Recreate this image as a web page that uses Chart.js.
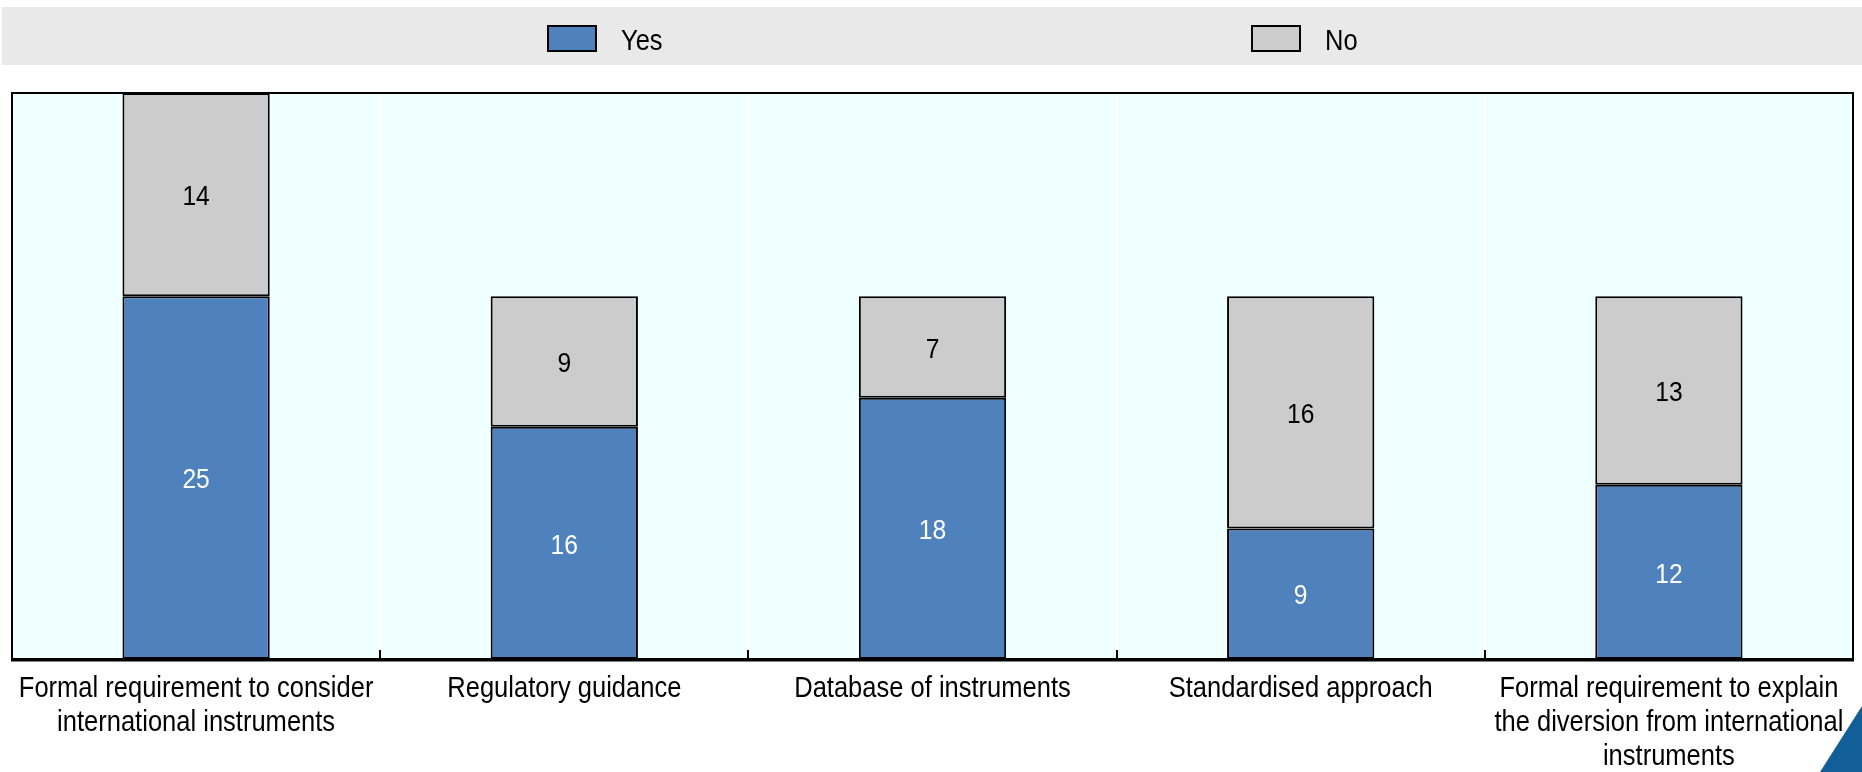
<!DOCTYPE html>
<html>
<head>
<meta charset="utf-8">
<script src="https://cdn.jsdelivr.net/npm/chart.js@4.4.1/dist/chart.umd.min.js"></script>
<style>
  html, body { margin: 0; padding: 0; background: #ffffff; }
  #wrap { width: 1862px; height: 772px; position: relative; }
</style>
</head>
<body>
<div id="wrap"><canvas id="chart" width="1862" height="772"></canvas></div>
<script>
// Categories of regulatory practice
const categories = [
  ["Formal requirement to consider", "international instruments"],
  "Regulatory guidance",
  "Database of instruments",
  "Standardised approach",
  ["Formal requirement to explain", "the diversion from international", "instruments"]
];
const seriesNames = ["Yes", "No"];
const yesValues = [25, 16, 18, 9, 12];
const noValues = [14, 9, 7, 16, 13];

const FONT = "'Liberation Sans', Arial, sans-serif";
const SQUEEZE = 0.88;           // horizontal condensing of all text
const BLUE = "#4F81BD";
const GREY = "#CCCCCC";

// Condensed text helper
function condensedText(ctx, text, x, y, align) {
  ctx.save();
  ctx.translate(x, y);
  ctx.scale(SQUEEZE, 1);
  ctx.textAlign = align;
  ctx.fillText(text, 0, 0);
  ctx.restore();
}

// Light plot background, the top legend band and the corner mark
const backdrop = {
  id: "backdrop",
  beforeDraw(chart) {
    const { ctx, chartArea: a } = chart;
    ctx.save();
    ctx.fillStyle = "#E9E9E9";
    ctx.fillRect(2, 7, chart.width - 2, 58);
    ctx.fillStyle = "#F0FFFF";
    ctx.fillRect(a.left, a.top, a.right - a.left, a.bottom - a.top);
    ctx.fillStyle = "#115E99";
    ctx.beginPath();
    ctx.moveTo(1820, 772);
    ctx.lineTo(1862, 706);
    ctx.lineTo(1862, 772);
    ctx.closePath();
    ctx.fill();
    ctx.restore();
  }
};

// Legend entries drawn in the band from the datasets themselves
const bandLegend = {
  id: "bandLegend",
  afterDraw(chart) {
    const { ctx } = chart;
    const starts = [548, 1252];
    ctx.save();
    chart.data.datasets.forEach((ds, i) => {
      const x = starts[i];
      ctx.fillStyle = ds.backgroundColor;
      ctx.fillRect(x, 26, 48, 25);
      ctx.lineWidth = 2;
      ctx.strokeStyle = "#000000";
      ctx.strokeRect(x, 26, 48, 25);
      ctx.fillStyle = "#000000";
      ctx.font = "29px " + FONT;
      ctx.textBaseline = "alphabetic";
      condensedText(ctx, ds.label, x + 73, 50, "left");
    });
    ctx.restore();
  }
};

// Value labels in each segment, category labels, plot frame and inner ticks
const annotations = {
  id: "annotations",
  afterDatasetsDraw(chart) {
    const { ctx, chartArea: a } = chart;
    const xs = chart.scales.x;
    ctx.save();
    ctx.font = "28px " + FONT;
    ctx.textBaseline = "middle";
    chart.data.datasets.forEach((ds, di) => {
      const meta = chart.getDatasetMeta(di);
      meta.data.forEach((bar, i) => {
        ctx.fillStyle = di === 0 ? "#FFFFFF" : "#000000";
        condensedText(ctx, String(ds.data[i]), bar.x, (bar.y + bar.base) / 2 + 3, "center");
      });
    });

    // category labels under the axis
    ctx.font = "29px " + FONT;
    ctx.textBaseline = "alphabetic";
    ctx.fillStyle = "#000000";
    chart.data.labels.forEach((lab, i) => {
      const lines = Array.isArray(lab) ? lab : [lab];
      const cx = xs.getPixelForTick(i);
      lines.forEach((ln, k) => condensedText(ctx, ln, cx, a.bottom + 38 + k * 34, "center"));
    });

    // frame
    ctx.strokeStyle = "#000000";
    ctx.lineWidth = 2;
    ctx.strokeRect(a.left, a.top, a.right - a.left, a.bottom - a.top);
    ctx.lineWidth = 3;
    ctx.beginPath();
    ctx.moveTo(a.left - 1, a.bottom + 1);
    ctx.lineTo(a.right + 1, a.bottom + 1);
    ctx.stroke();
    // tick marks between categories
    ctx.lineWidth = 2;
    for (let i = 0; i < categories.length - 1; i++) {
      const bx = Math.round((xs.getPixelForTick(i) + xs.getPixelForTick(i + 1)) / 2);
      ctx.beginPath();
      ctx.moveTo(bx, a.bottom);
      ctx.lineTo(bx, a.bottom - 9);
      ctx.stroke();
    }
    ctx.restore();
  }
};

new Chart(document.getElementById("chart"), {
  type: "bar",
  data: {
    labels: categories,
    datasets: [
      { label: seriesNames[0], data: yesValues, backgroundColor: BLUE, borderColor: "#000000", borderWidth: 2, borderSkipped: false },
      { label: seriesNames[1], data: noValues, backgroundColor: GREY, borderColor: "#000000", borderWidth: 2, borderSkipped: false }
    ]
  },
  options: {
    responsive: false,
    animation: false,
    layout: { padding: { top: 93, left: 12, right: 9, bottom: 113 } },
    plugins: { legend: { display: false }, tooltip: { enabled: false } },
    datasets: { bar: { categoryPercentage: 1, barPercentage: 0.4 } },
    scales: {
      x: {
        stacked: true,
        offset: true,
        grid: { offset: true, color: "#FFFFFF", lineWidth: 2, drawTicks: false },
        border: { display: false },
        ticks: { display: false }
      },
      y: {
        stacked: true,
        display: false,
        min: 0,
        max: 39
      }
    }
  },
  plugins: [backdrop, bandLegend, annotations]
});
</script>
</body>
</html>
